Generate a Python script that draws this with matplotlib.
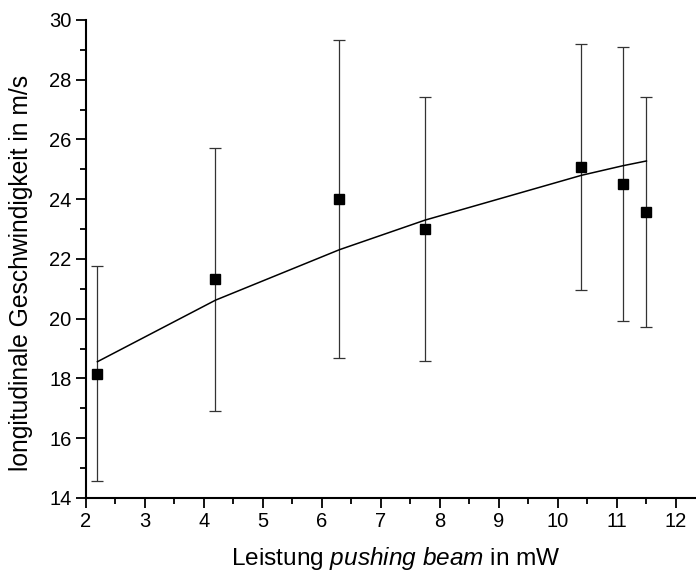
import matplotlib
matplotlib.use("Agg")
import matplotlib.pyplot as plt
from matplotlib.ticker import MultipleLocator

plt.rcParams['font.family'] = ['Liberation Sans', 'DejaVu Sans']
plt.rcParams['mathtext.fontset'] = 'custom'
plt.rcParams['mathtext.rm'] = 'Liberation Sans'
plt.rcParams['mathtext.it'] = 'Liberation Sans:italic'

# Messwerte: Leistung des pushing beam (mW) und Geschwindigkeit (m/s)
leistung = [2.2, 4.2, 6.3, 7.75, 10.4, 11.1, 11.5]
geschw = [18.14, 21.32, 24.0, 23.0, 25.08, 24.5, 23.57]
err_oben = [21.75, 25.72, 29.33, 27.43, 29.2, 29.08, 27.43]
err_unten = [14.55, 16.9, 18.67, 18.6, 20.97, 19.92, 19.72]
fit = [18.56, 20.62, 22.31, 23.30, 24.80, 25.12, 25.28]

yerr = [[g - u for g, u in zip(geschw, err_unten)],
        [o - g for g, o in zip(geschw, err_oben)]]

fig = plt.figure(figsize=(6.96, 5.71), dpi=100)
ax = fig.add_axes([0.123, 0.128, 0.877, 0.837])

ax.errorbar(leistung, geschw, yerr=yerr, fmt='none', ecolor='#333333',
            elinewidth=0.9, capsize=4, capthick=0.9)
ax.plot(leistung, geschw, 's', color='black', markersize=6.5, zorder=3)
ax.plot(leistung, fit, '-', color='black', linewidth=1.1)

ax.set_xlim(2, 12.34)
ax.set_ylim(14, 30)
ax.xaxis.set_major_locator(MultipleLocator(1))
ax.xaxis.set_minor_locator(MultipleLocator(0.5))
ax.yaxis.set_major_locator(MultipleLocator(2))
ax.yaxis.set_minor_locator(MultipleLocator(1))

for s in ['top', 'right']:
    ax.spines[s].set_visible(False)
for s in ['left', 'bottom']:
    ax.spines[s].set_linewidth(1.5)

ax.tick_params(which='major', direction='out', length=7, width=1.3, labelsize=14.5, pad=3)
ax.tick_params(which='minor', direction='out', length=4, width=1.3)

ax.set_xlabel(r"Leistung $\it{pushing\ beam}$ in mW", fontsize=17.6)
ax.set_ylabel("longitudinale Geschwindigkeit in m/s", fontsize=17.7)
ax.xaxis.set_label_coords(0.509, -0.099)
ax.yaxis.set_label_coords(-0.086, 0.47)

fig.savefig("out.png", dpi=100)
